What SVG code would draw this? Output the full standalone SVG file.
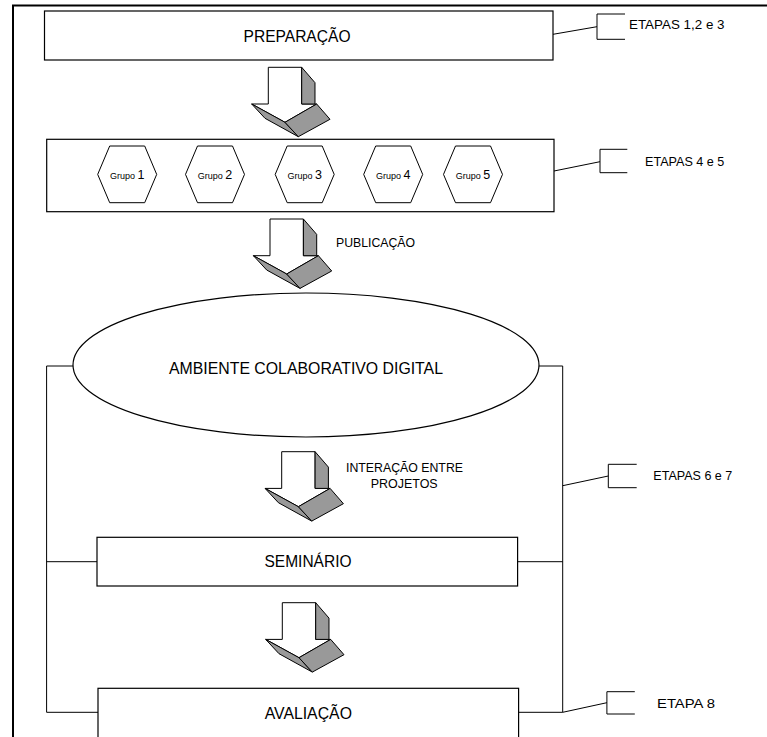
<svg xmlns="http://www.w3.org/2000/svg" xmlns:xlink="http://www.w3.org/1999/xlink" width="767" height="737" viewBox="0 0 767 737">
<style>
.box{fill:#fff;stroke:#000;stroke-width:1.2}
.ln{fill:none;stroke:#000;stroke-width:1}
.frame{fill:none;stroke:#000;stroke-width:2}
.hex{fill:#fff;stroke:#000;stroke-width:1}
.t{font-family:"Liberation Sans",Arial,sans-serif;fill:#000}
.big{font-size:17px}
.sm{font-size:13.5px}
.aw{fill:#fff;stroke:#000;stroke-width:1;stroke-linejoin:round}
.ag{fill:#999;stroke:#000;stroke-width:1;stroke-linejoin:round}
</style>
<defs>
<g id="arrow">
<polygon class="aw" points="-16.6,36.7 0,36.7 0,0 33.4,0 33.4,36.7 48.4,36.7 16.7,55"/>
<polygon class="ag" points="33.4,0 46.7,15.4 46.7,36.7 33.4,36.7"/>
<polygon class="ag" points="-16.6,36.7 16.7,55 30,69.4 -3.3,51"/>
<polygon class="ag" points="16.7,55 48.4,36.7 61.7,52 30,69.4"/>
</g>
</defs>
<rect width="767" height="737" fill="#fff"/>
<g id="frame">
<polyline class="frame" points="767,5.5 13,5.5 13,737"/>
</g>
<g id="connectors">
<polyline class="ln" points="73,366 46.6,366 46.6,712.3 98,712.3"/>
<polyline class="ln" points="539,366 562.7,366 562.7,712.3 518.6,712.3"/>
<line class="ln" x1="46.6" y1="561.7" x2="97" y2="561.7"/>
<line class="ln" x1="517.6" y1="561.7" x2="562.7" y2="561.7"/>
<line class="ln" x1="553" y1="34.3" x2="597" y2="26.7"/>
<polyline class="ln" points="625,14 597,14 597,39.3 625,39.3"/>
<line class="ln" x1="554" y1="171" x2="600" y2="161.7"/>
<polyline class="ln" points="627.3,149.3 600,149.3 600,172.7 627.3,172.7"/>
<line class="ln" x1="562.7" y1="485.7" x2="608.3" y2="476"/>
<polyline class="ln" points="636.7,464.3 608.3,464.3 608.3,487.7 636.7,487.7"/>
<line class="ln" x1="562.7" y1="712.3" x2="606.9" y2="702.7"/>
<polyline class="ln" points="634.8,691.7 606.9,691.7 606.9,714 634.8,714"/>
<use xlink:href="#arrow" href="#arrow" transform="translate(268.3,67.3)"/>
<use xlink:href="#arrow" href="#arrow" transform="translate(270,219)"/>
<use xlink:href="#arrow" href="#arrow" transform="translate(281.7,451.7)"/>
<use xlink:href="#arrow" href="#arrow" transform="translate(282.3,602.7)"/>
</g>
<g id="preparacao">
<rect class="box" x="44.5" y="11" width="508.5" height="49"/>
<text class="t big" x="297" y="41.5" text-anchor="middle" textLength="107" lengthAdjust="spacingAndGlyphs">PREPARAÇÃO</text>
</g>
<g id="grupos">
<rect class="box" x="46.7" y="139.3" width="507.3" height="72.4"/>
</g>
<g id="grupo1">
<polygon class="hex" points="97.7,174.4 109.7,146 144.7,146 156.7,174.4 144.7,202.7 109.7,202.7"/>
<text class="t" x="127.2" y="178.8" text-anchor="middle"><tspan font-size="9">Grupo </tspan><tspan font-size="12.5">1</tspan></text>
</g>
<g id="grupo2">
<polygon class="hex" points="185.5,174.4 197.5,146 232.5,146 244.5,174.4 232.5,202.7 197.5,202.7"/>
<text class="t" x="215" y="178.8" text-anchor="middle"><tspan font-size="9">Grupo </tspan><tspan font-size="12.5">2</tspan></text>
</g>
<g id="grupo3">
<polygon class="hex" points="275.2,174.4 287.2,146 322.2,146 334.2,174.4 322.2,202.7 287.2,202.7"/>
<text class="t" x="304.7" y="178.8" text-anchor="middle"><tspan font-size="9">Grupo </tspan><tspan font-size="12.5">3</tspan></text>
</g>
<g id="grupo4">
<polygon class="hex" points="363.7,174.4 375.7,146 410.7,146 422.7,174.4 410.7,202.7 375.7,202.7"/>
<text class="t" x="393.2" y="178.8" text-anchor="middle"><tspan font-size="9">Grupo </tspan><tspan font-size="12.5">4</tspan></text>
</g>
<g id="grupo5">
<polygon class="hex" points="443.5,174.4 455.5,146 490.5,146 502.5,174.4 490.5,202.7 455.5,202.7"/>
<text class="t" x="473" y="178.8" text-anchor="middle"><tspan font-size="9">Grupo </tspan><tspan font-size="12.5">5</tspan></text>
</g>
<g id="ambiente">
<ellipse class="box" cx="306" cy="365" rx="233" ry="72"/>
<text class="t big" x="306" y="373.5" text-anchor="middle" textLength="274" lengthAdjust="spacingAndGlyphs">AMBIENTE COLABORATIVO DIGITAL</text>
</g>
<g id="seminario">
<rect class="box" x="97" y="537.3" width="420.6" height="48.7"/>
<text class="t big" x="308" y="567" text-anchor="middle" textLength="87" lengthAdjust="spacingAndGlyphs">SEMINÁRIO</text>
</g>
<g id="avaliacao">
<rect class="box" x="98" y="688.3" width="420.6" height="70"/>
<text class="t big" x="308.3" y="719" text-anchor="middle" textLength="87.3" lengthAdjust="spacingAndGlyphs">AVALIAÇÃO</text>
</g>
<g id="labels">
<text class="t sm" x="336" y="246.5" textLength="79" lengthAdjust="spacingAndGlyphs">PUBLICAÇÃO</text>
<text class="t sm" x="346" y="471.5" textLength="117" lengthAdjust="spacingAndGlyphs">INTERAÇÃO ENTRE</text>
<text class="t sm" x="370.7" y="488" textLength="67" lengthAdjust="spacingAndGlyphs">PROJETOS</text>
<text class="t sm" x="629" y="29" textLength="95.5" lengthAdjust="spacingAndGlyphs">ETAPAS 1,2 e 3</text>
<text class="t sm" x="645" y="166" textLength="79.3" lengthAdjust="spacingAndGlyphs">ETAPAS 4 e 5</text>
<text class="t sm" x="653.3" y="480" textLength="79" lengthAdjust="spacingAndGlyphs">ETAPAS 6 e 7</text>
<text class="t sm" x="657" y="707.5" textLength="58" lengthAdjust="spacingAndGlyphs">ETAPA 8</text>
</g>
</svg>
